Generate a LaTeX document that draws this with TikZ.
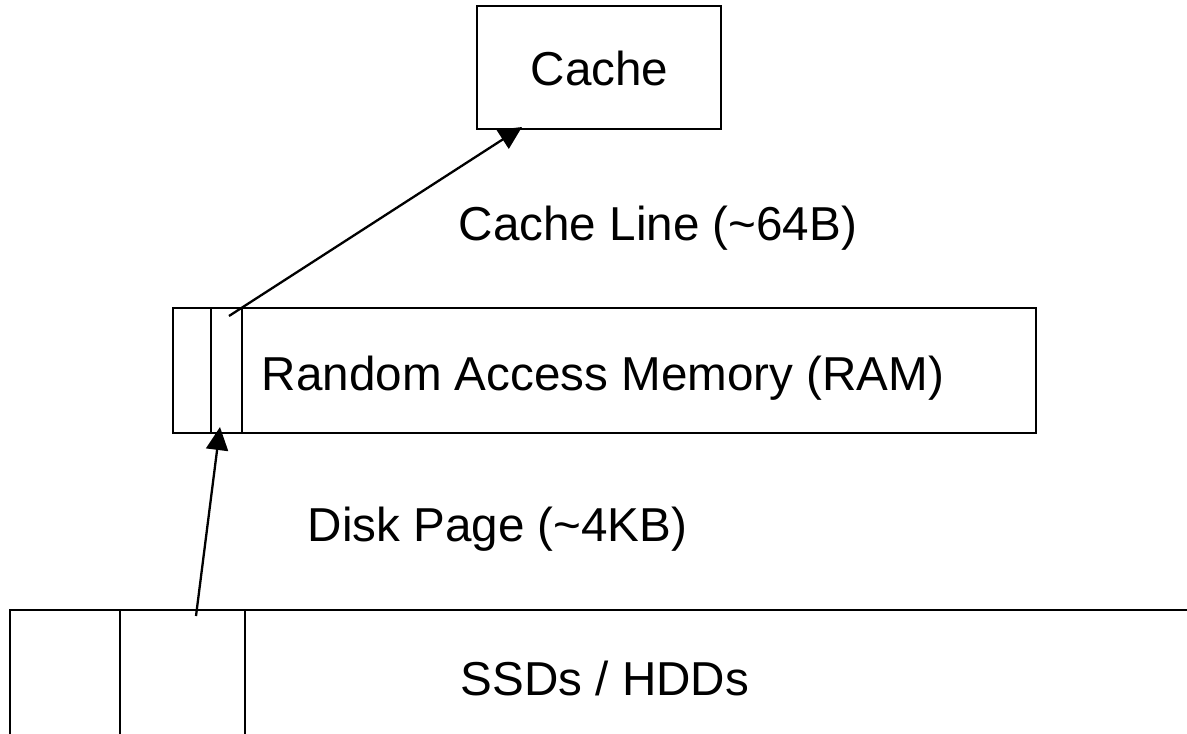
\documentclass[tikz,border=0pt]{standalone}
\usepackage{fontspec}
\setmainfont{Liberation Sans}
\usetikzlibrary{arrows.meta}
\begin{document}
\begin{tikzpicture}[x=1pt,y=-1pt,
  box/.style={draw,line width=2.3pt,inner sep=0pt,rectangle},
  lbl/.style={inner sep=0pt,anchor=base,font=\fontsize{47.6}{56}\selectfont},
  edge/.style={line width=2.3pt},
  conn/.style={line width=2.3pt,-{Triangle[length=23pt,width=22pt]}}]
\useasboundingbox (0,0) rectangle (1187,734);
% Cache
\node[box,minimum width=244pt,minimum height=123pt] (cache) at (599,67.5) {};
\node[lbl] (cachetxt) at (599.5,85) {Cache};
% RAM
\node[box,minimum width=863pt,minimum height=125pt] (ram) at (604.5,370.5) {};
\node[box,minimum width=31pt,minimum height=125pt] (ramcell) at (226.5,370.5) {};
\node[lbl] (ramtxt) at (603,390) {Random Access Memory (RAM)};
% SSD
\draw[edge] (10,745) -- (10,610) -- (1195,610);
\draw[edge] (120,610) -- (120,745);
\draw[edge] (245,610) -- (245,745);
\node[lbl] (ssdtxt) at (605,695) {SSDs / HDDs};
% labels
\node[lbl] (linetxt) at (658,240) {Cache Line (\char`\~64B)};
\node[lbl] (pagetxt) at (497.5,541) {Disk Page (\char`\~4KB)};
% connectors
\coordinate (cellpt) at (229,316);
\coordinate (cachein) at (522,127);
\coordinate (ssdpt) at (196,616);
\coordinate (ramin) at (220,427);
\draw[conn] (cellpt) -- (cachein);
\draw[conn] (ssdpt) -- (ramin);
\end{tikzpicture}
\end{document}
